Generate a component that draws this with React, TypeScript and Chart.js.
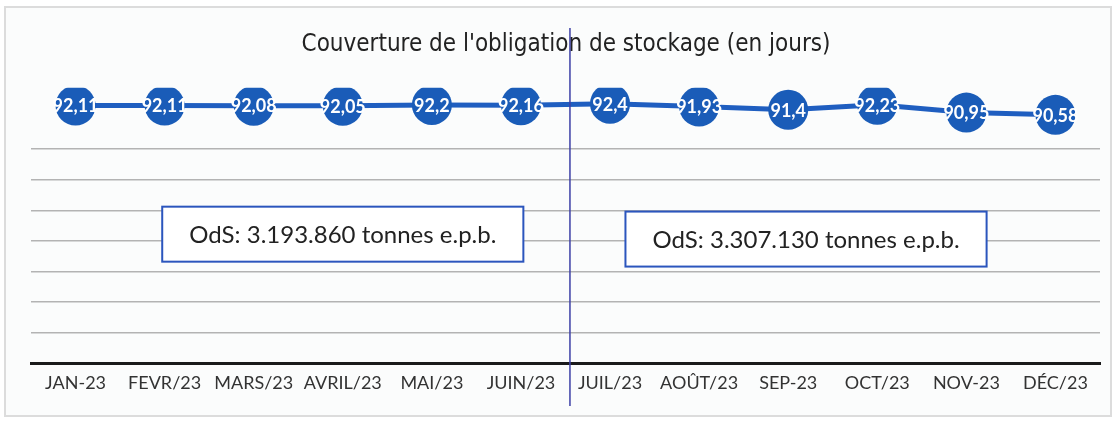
import React, { useEffect, useRef } from "react";
import { Chart, registerables } from "chart.js";

Chart.register(...registerables);

const categories = ["JAN-23", "FEVR/23", "MARS/23", "AVRIL/23", "MAI/23", "JUIN/23", "JUIL/23", "AOÛT/23", "SEP-23", "OCT/23", "NOV-23", "DÉC/23"];
const coverageDays = [92.11, 92.11, 92.08, 92.05, 92.2, 92.16, 92.4, 91.93, 91.4, 92.23, 90.95, 90.58];
const titleText = "Couverture de l'obligation de stockage (en jours)";
const odsNotes = ["OdS: 3.193.860 tonnes e.p.b.", "OdS: 3.307.130 tonnes e.p.b."];
const odsNoteAt = [
  { x: 3, y: 71.1 },
  { x: 8.2, y: 70.3 },
];
const splitAt = 5.55;

const TEXT_FONT = "Lato, 'Open Sans', sans-serif";

const overlayPlugin = {
  id: "overlay",
  afterDatasetsDraw(chart: any) {
    const { ctx, scales } = chart;
    const xs = scales.x;
    const ys = scales.y;
    const meta = chart.getDatasetMeta(0);
    ctx.save();
    ctx.fillStyle = "#ffffff";
    ctx.font = `bold 18px ${TEXT_FONT}`;
    ctx.textAlign = "center";
    ctx.textBaseline = "middle";
    meta.data.forEach((pt: any, i: number) => {
      const label = String(coverageDays[i]).replace(".", ",");
      ctx.fillText(label, pt.x, pt.y + 1);
    });
    ctx.restore();

    ctx.save();
    ctx.font = `24px ${TEXT_FONT}`;
    odsNotes.forEach((txt, i) => {
      const cx = xs.getPixelForValue(odsNoteAt[i].x);
      const cy = ys.getPixelForValue(odsNoteAt[i].y);
      const tw = ctx.measureText(txt).width;
      const w = tw + 54;
      const h = 55;
      ctx.fillStyle = "#ffffff";
      ctx.fillRect(cx - w / 2, cy - h / 2, w, h);
      ctx.strokeStyle = "#2b55bd";
      ctx.lineWidth = 2;
      ctx.strokeRect(cx - w / 2, cy - h / 2, w, h);
      ctx.fillStyle = "#222222";
      ctx.textAlign = "center";
      ctx.textBaseline = "middle";
      ctx.fillText(txt, cx, cy + 1);
    });
    ctx.restore();
  },
  afterDraw(chart: any) {
    const { ctx, scales } = chart;
    const x = scales.x.getPixelForValue(splitAt);
    ctx.save();
    ctx.strokeStyle = "#3d3fa6";
    ctx.lineWidth = 1.5;
    ctx.beginPath();
    ctx.moveTo(x, 28);
    ctx.lineTo(x, 406);
    ctx.stroke();
    ctx.restore();
  },
};

export default function App() {
  const canvasRef = useRef<HTMLCanvasElement | null>(null);

  useEffect(() => {
    document.body.style.margin = "0";
    document.body.style.background = "#ffffff";
    const canvas = canvasRef.current;
    if (!canvas) return;
    const chart = new Chart(canvas, {
      type: "line",
      data: {
        labels: categories,
        datasets: [
          {
            data: coverageDays,
            borderColor: "#1f5ec0",
            borderWidth: 5,
            backgroundColor: "#1a5cb8",
            pointRadius: 20,
            pointHoverRadius: 20,
            pointBorderWidth: 0,
            pointBackgroundColor: "#1a5cb8",
            tension: 0,
            fill: false,
          },
        ],
      },
      options: {
        animation: false,
        responsive: false,
        maintainAspectRatio: false,
        layout: { padding: { left: 31, right: 19, top: 0, bottom: 20 } },
        plugins: {
          legend: { display: false },
          tooltip: { enabled: false },
          title: {
            display: true,
            text: titleText,
            color: "#222222",
            font: { family: "'Liberation Sans Narrow', 'DejaVu Sans Condensed', 'Liberation Sans', sans-serif", size: 24, weight: "normal" },
            padding: { top: 30, bottom: 29 },
          },
        },
        scales: {
          x: {
            offset: true,
            grid: { display: false, drawTicks: false },
            border: { display: true, color: "#1a1a1a", width: 3 },
            ticks: {
              color: "#333333",
              font: { family: TEXT_FONT, size: 18 },
              padding: 9,
              maxRotation: 0,
              autoSkip: false,
            },
          },
          y: {
            min: 50,
            max: 95,
            ticks: { display: false, stepSize: 5 },
            border: { display: false },
            grid: {
              drawTicks: false,
              lineWidth: 1.5,
              color: (c: any) => (c.tick && c.tick.value > 85 ? "rgba(0,0,0,0)" : "#b3b3b3"),
            },
          },
        },
      },
      plugins: [overlayPlugin],
    });
    return () => chart.destroy();
  }, []);

  return (
    <div style={{ position: "relative", width: 1120, height: 423, background: "#ffffff" }}>
      <div
        style={{
          position: "absolute",
          left: 4,
          top: 6,
          right: 8,
          bottom: 6,
          border: "2px solid #dcdcdc",
          background: "#fbfcfc",
        }}
      />
      <canvas ref={canvasRef} width={1120} height={423} style={{ position: "absolute", left: 0, top: 0 }} />
    </div>
  );
}
